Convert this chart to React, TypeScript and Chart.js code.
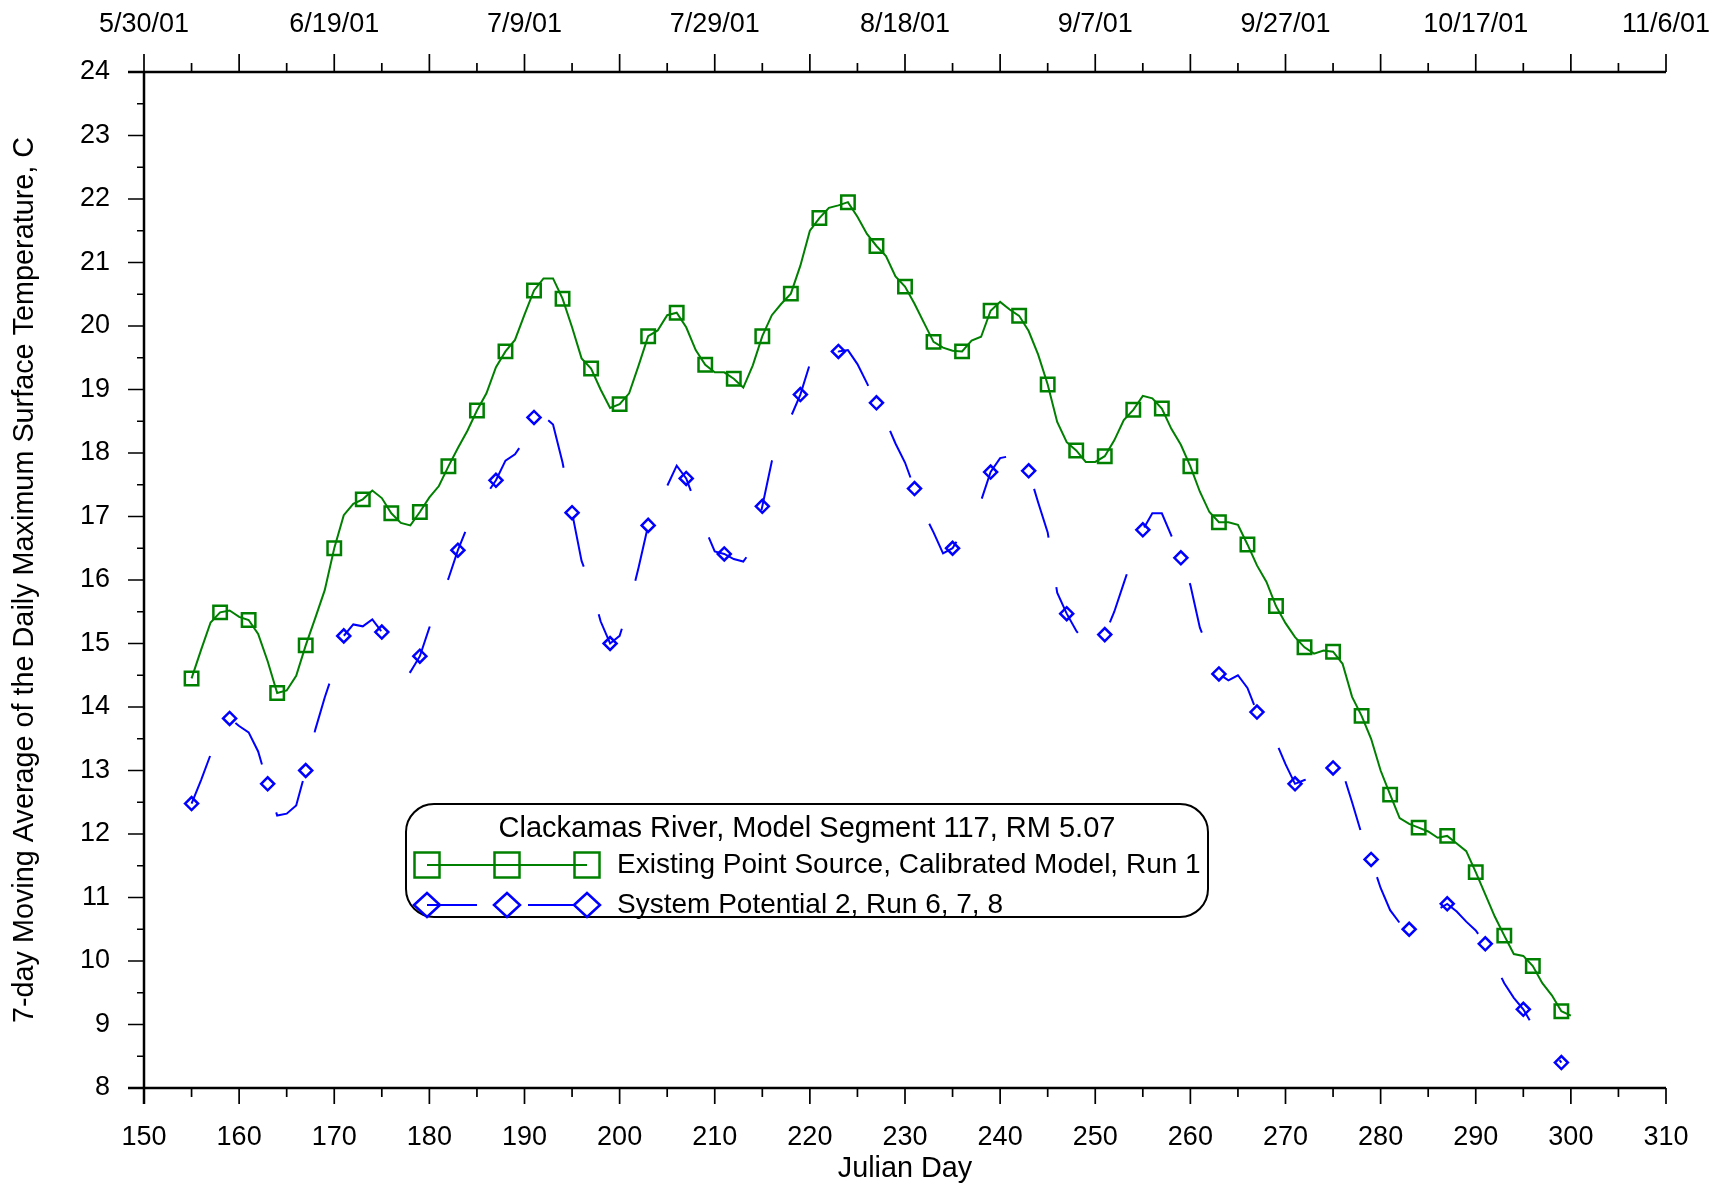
import React, { useEffect, useRef } from 'react';
import { Chart, registerables } from 'chart.js';

Chart.register(...registerables);

// ---------- data ----------
const existingStartDay = 155;
const existingTemps = [
  14.45, 14.9, 15.33, 15.49, 15.52, 15.42, 15.37, 15.15, 14.72, 14.22,
  14.26, 14.49, 14.97, 15.4, 15.84, 16.5, 17.02, 17.2, 17.27, 17.41,
  17.29, 17.05, 16.9, 16.86, 17.07, 17.3, 17.48, 17.79, 18.08, 18.35,
  18.67, 18.94, 19.35, 19.6, 19.78, 20.18, 20.56, 20.75, 20.75, 20.43,
  19.98, 19.49, 19.33, 19.0, 18.71, 18.77, 18.94, 19.38, 19.84, 19.93,
  20.17, 20.21, 19.98, 19.62, 19.39, 19.27, 19.27, 19.17, 19.03, 19.38,
  19.84, 20.17, 20.35, 20.51, 20.95, 21.5, 21.7, 21.86, 21.9, 21.95,
  21.72, 21.45, 21.26, 21.1, 20.78, 20.62, 20.35, 20.05, 19.75, 19.66,
  19.61, 19.6, 19.77, 19.83, 20.24, 20.38, 20.26, 20.16, 19.92, 19.55,
  19.08, 18.49, 18.17, 18.04, 17.86, 17.86, 17.95, 18.2, 18.52, 18.68,
  18.9, 18.86, 18.7, 18.38, 18.13, 17.79, 17.39, 17.07, 16.91, 16.91,
  16.87, 16.56, 16.23, 15.97, 15.59, 15.32, 15.1, 14.94, 14.84, 14.89,
  14.87, 14.68, 14.16, 13.86, 13.5, 13.0, 12.62, 12.25, 12.16, 12.1,
  12.04, 11.94, 11.97, 11.85, 11.73, 11.4, 11.05, 10.7, 10.4, 10.11,
  10.08, 9.92, 9.65, 9.46, 9.21, 9.14,
];

const potentialStartDay = 155;
const potentialTemps = [
  12.48, 12.85, 13.25, 13.6, 13.82, 13.7, 13.6, 13.3, 12.79, 12.29,
  12.32, 12.45, 13.0, 13.64, 14.15, 14.6, 15.12, 15.3, 15.27, 15.38,
  15.18, 14.9, 14.65, 14.55, 14.8, 15.25, 15.65, 16.02, 16.47, 16.84,
  17.1, 17.35, 17.57, 17.88, 17.98, 18.2, 18.56, 18.58, 18.45, 17.85,
  17.06, 16.3, 15.9, 15.35, 15.0, 15.12, 15.6, 16.2, 16.86, 17.15,
  17.48, 17.8, 17.6, 17.2, 16.8, 16.45, 16.41, 16.33, 16.29, 16.5,
  17.16, 17.87, 18.25, 18.57, 18.92, 19.4, 19.62, 19.8, 19.6, 19.62,
  19.4, 19.1, 18.79, 18.5, 18.15, 17.85, 17.44, 17.05, 16.75, 16.42,
  16.5, 16.75, 17.0, 17.25, 17.7, 17.92, 17.95, 17.96, 17.72, 17.22,
  16.75, 15.8, 15.47, 15.2, 15.0, 14.98, 15.14, 15.5, 15.95, 16.4,
  16.79, 17.05, 17.05, 16.7, 16.35, 15.92, 15.25, 14.87, 14.52, 14.42,
  14.5, 14.3, 13.92, 13.75, 13.45, 13.1, 12.79, 12.85, 12.9, 12.95,
  13.04, 12.98, 12.5, 12.0, 11.6, 11.15, 10.8, 10.6, 10.5, 10.62,
  10.72, 10.81, 10.9, 10.78, 10.62, 10.48, 10.27, 9.95, 9.65, 9.42,
  9.24, 8.98, 8.77, 8.6, 8.4,
];

const dateTickLabels = [
  '5/30/01', '6/19/01', '7/9/01', '7/29/01', '8/18/01',
  '9/7/01', '9/27/01', '10/17/01', '11/6/01',
];
const legendTitle = 'Clackamas River, Model Segment 117, RM 5.07';
const seriesNames = [
  'Existing Point Source, Calibrated Model, Run 1',
  'System Potential 2, Run 6, 7, 8',
];
const xTitle = 'Julian Day';
const yTitle = '7-day Moving Average of the Daily Maximum Surface Temperature, C';

// ---------- styles ----------
const GREEN = 'rgb(0,128,0)';
const BLUE = 'rgb(0,0,255)';
const FONT = '"Liberation Sans", Arial, Helvetica, sans-serif';
const W = 1723;
const H = 1186;

const axisPlugin = {
  id: 'axisDecor',
  afterDraw(chart: any) {
    const { ctx, chartArea: a, scales } = chart;
    const x = scales.x;
    const y = scales.y;
    ctx.save();
    ctx.strokeStyle = '#000';
    ctx.lineWidth = 2.5;
    ctx.beginPath();
    ctx.moveTo(a.left - 16, a.top);
    ctx.lineTo(a.right, a.top);
    ctx.moveTo(a.left, a.top);
    ctx.lineTo(a.left, a.bottom + 16);
    ctx.moveTo(a.left - 16, a.bottom);
    ctx.lineTo(a.right, a.bottom);
    ctx.stroke();
    ctx.lineWidth = 1.7;
    ctx.beginPath();
    for (let v = x.min; v <= x.max + 1e-6; v += 5) {
      const px = x.getPixelForValue(v);
      const major = Math.abs(v % 10) < 1e-6;
      ctx.moveTo(px, a.bottom);
      ctx.lineTo(px, a.bottom + (major ? 16 : 9));
      ctx.moveTo(px, a.top);
      ctx.lineTo(px, a.top - (major ? 18 : 9));
    }
    for (let v = y.min; v <= y.max + 1e-6; v += 0.5) {
      const py = y.getPixelForValue(v);
      const major = Math.abs(v - Math.round(v)) < 1e-6;
      ctx.moveTo(a.left, py);
      ctx.lineTo(a.left - (major ? 16 : 7), py);
    }
    ctx.stroke();
    ctx.restore();
  },
};

const legendPlugin = {
  id: 'boxLegend',
  afterDraw(chart: any) {
    const ctx = chart.ctx;
    const L = 406, T = 804, R = 1208, B = 917, rad = 28;
    ctx.save();
    ctx.beginPath();
    ctx.roundRect(L, T, R - L, B - T, rad);
    ctx.fillStyle = '#fff';
    ctx.fill();
    ctx.lineWidth = 2;
    ctx.strokeStyle = '#000';
    ctx.stroke();

    ctx.fillStyle = '#000';
    ctx.font = `29px ${FONT}`;
    ctx.textBaseline = 'middle';
    ctx.textAlign = 'center';
    ctx.fillText(legendTitle, (L + R) / 2, 829);

    const mx = [427, 507, 587];
    // row 1
    const y1 = 865;
    ctx.strokeStyle = GREEN;
    ctx.lineWidth = 2;
    ctx.beginPath();
    ctx.moveTo(mx[0], y1);
    ctx.lineTo(mx[2], y1);
    ctx.stroke();
    ctx.lineWidth = 2.5;
    mx.forEach((cx) => {
      ctx.strokeRect(cx - 12.5, y1 - 12.5, 25, 25);
    });
    // row 2
    const y2 = 905;
    ctx.strokeStyle = BLUE;
    ctx.lineWidth = 2;
    ctx.beginPath();
    ctx.moveTo(mx[0], y2);
    ctx.lineTo(477, y2);
    ctx.moveTo(528, y2);
    ctx.lineTo(mx[2] - 13, y2);
    ctx.stroke();
    ctx.lineWidth = 2.5;
    mx.forEach((cx) => {
      ctx.beginPath();
      ctx.moveTo(cx - 13, y2);
      ctx.lineTo(cx, y2 - 12);
      ctx.lineTo(cx + 13, y2);
      ctx.lineTo(cx, y2 + 12);
      ctx.closePath();
      ctx.stroke();
    });

    ctx.font = `28px ${FONT}`;
    ctx.fillStyle = '#000';
    ctx.textAlign = 'left';
    ctx.fillText(seriesNames[0], 617, y1);
    ctx.fillText(seriesNames[1], 617, y2);
    ctx.restore();
  },
};

export default function App() {
  const ref = useRef<HTMLCanvasElement | null>(null);

  useEffect(() => {
    document.body.style.margin = '0';
    const canvas = ref.current;
    if (!canvas) return;
    const tickFont = { family: FONT, size: 27 };
    const titleFont = { family: FONT, size: 28.8 };

    const fitX = (h: number) => (s: any) => {
      s.height = h;
      s.paddingLeft = 0;
      s.paddingRight = 0;
      s.paddingTop = 0;
      s.paddingBottom = 0;
    };

    const chart = new Chart(canvas, {
      type: 'line',
      data: {
        datasets: [
          {
            label: seriesNames[0],
            data: existingTemps.map((t, i) => ({ x: existingStartDay + i, y: t })),
            borderColor: GREEN,
            borderWidth: 2,
            fill: false,
            tension: 0,
            pointStyle: 'rect',
            pointRadius: (c: any) => (c.index % 3 === 0 ? 9.5 : 0),
            pointBorderColor: GREEN,
            pointBackgroundColor: 'rgba(0,0,0,0)',
            pointBorderWidth: 2.5,
            xAxisID: 'x',
            yAxisID: 'y',
          },
          {
            label: seriesNames[1],
            data: potentialTemps.map((t, i) => ({ x: potentialStartDay + i, y: t })),
            borderColor: BLUE,
            borderWidth: 2,
            borderDash: [51, 50],
            fill: false,
            tension: 0,
            pointStyle: 'rectRot',
            pointRadius: (c: any) => (c.index % 4 === 0 ? 6.5 : 0),
            pointBorderColor: BLUE,
            pointBackgroundColor: 'rgba(0,0,0,0)',
            pointBorderWidth: 2.5,
            xAxisID: 'x',
            yAxisID: 'y',
          },
        ],
      },
      options: {
        responsive: false,
        animation: false,
        devicePixelRatio: 1,
        layout: { padding: { left: 0, right: 57, top: 0, bottom: 0 } },
        plugins: {
          legend: { display: false },
          tooltip: { enabled: false },
        },
        scales: {
          x: {
            type: 'linear',
            position: 'bottom',
            min: 150,
            max: 310,
            afterFit: fitX(98),
            grid: { display: false, drawTicks: false },
            border: { display: false },
            ticks: {
              stepSize: 10,
              autoSkip: false,
              maxRotation: 0,
              padding: 33,
              font: tickFont,
              color: '#000',
            },
            title: {
              display: true,
              text: xTitle,
              font: titleFont,
              color: '#000',
              padding: { top: 0, bottom: 0 },
            },
          },
          x2: {
            type: 'linear',
            position: 'top',
            min: 150,
            max: 310,
            afterFit: fitX(72),
            grid: { display: false, drawTicks: false },
            border: { display: false },
            ticks: {
              stepSize: 20,
              autoSkip: false,
              maxRotation: 0,
              padding: 31,
              font: tickFont,
              color: '#000',
              callback: (_v: any, i: number) => dateTickLabels[i],
            },
          },
          y: {
            type: 'linear',
            min: 8,
            max: 24,
            afterFit: (s: any) => {
              s.width = 144;
              s.paddingTop = 0;
              s.paddingBottom = 0;
              s.paddingLeft = 0;
              s.paddingRight = 0;
            },
            grid: { display: false, drawTicks: false },
            border: { display: false },
            ticks: {
              stepSize: 1,
              autoSkip: false,
              padding: 34,
              font: tickFont,
              color: '#000',
            },
            title: {
              display: true,
              text: yTitle,
              font: titleFont,
              color: '#000',
              padding: { top: 8, bottom: 0 },
            },
          },
        },
      },
      plugins: [axisPlugin, legendPlugin],
    } as any);

    return () => chart.destroy();
  }, []);

  return (
    <canvas
      ref={ref}
      width={W}
      height={H}
      style={{ display: 'block', width: W, height: H }}
    />
  );
}
